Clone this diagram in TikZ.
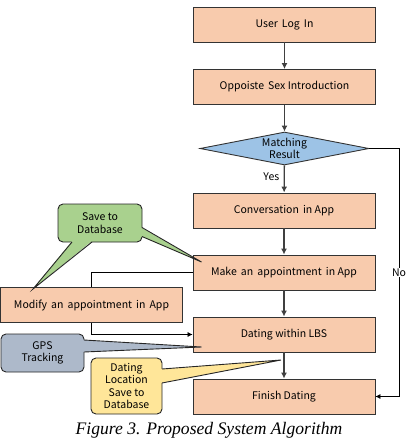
\documentclass[tikz,border=0pt]{standalone}
\usepackage{fontspec}
\setmainfont{Noto Sans CJK KR}
\newfontfamily\capfont{Liberation Serif}
\usepackage{tikz}
\usetikzlibrary{shapes.geometric, arrows.meta}
\definecolor{boxpeach}{HTML}{F8CBAD}
\definecolor{matchblue}{HTML}{9DC3E6}
\definecolor{savegreen}{HTML}{A9D18E}
\definecolor{gpsgrey}{HTML}{ADB9CA}
\definecolor{placeyellow}{HTML}{FFE699}
\tikzset{
  procbox/.style={draw=black!80, line width=0.9pt, fill=boxpeach, minimum width=182pt, minimum height=35pt, inner sep=0pt, font=\fontsize{10.5pt}{12pt}\selectfont},
  decision/.style={diamond, draw=black!80, line width=0.9pt, fill=matchblue, minimum width=169pt, minimum height=33pt, inner sep=0pt},
  memo/.style={draw=black!85, line width=0.9pt, rounded corners=5pt, inner sep=0pt, align=center, font=\fontsize{10.5pt}{12.5pt}\selectfont},
  flow/.style={draw=black!75, line width=1.3pt, -{Latex[length=6pt,width=6pt]}},
  route/.style={draw=black, line width=0.6pt}
}

\begin{document}
\begin{tikzpicture}[x=1pt, y=-1pt]
\useasboundingbox (0,0) rectangle (406,440);
% main steps
\node[procbox] (user) at (284.5,24.5) {User\, Log\, In};
\node[procbox] (intro) at (284.5,87) {Oppoiste\, Sex Introduction};
\node[decision] (match) at (284.5,148.5) {};
\node[align=center, inner sep=0pt, font=\fontsize{10.5pt}{11.5pt}\selectfont] (matchtext) at (match) {Matching\\Result};
\node[procbox] (talk) at (284,210.5) {Conversation\, in App};
\node[procbox] (make) at (284,272.5) {Make\, an\, appointment\, in App};
\node[procbox] (modify) at (91.5,305) {Modify\, an\, appointment\, in\, App};
\node[procbox] (dating) at (284,334.5) {Dating within LBS};
\node[procbox] (finish) at (284,396.5) {Finish Dating};
% arrows
\draw[flow] (user) -- (intro);
\draw[flow] (intro) -- (match);
\draw[flow] (match) -- node[pos=0.42, left=1pt, font=\fontsize{10.5pt}{12pt}\selectfont] (yes) {Yes} (talk);
\draw[flow] (talk) -- (make);
\draw[flow] (make) -- (dating);
\draw[flow] (dating) -- (finish);
% no match
\coordinate (nocorner) at (399,148.5);
\draw[route, -{Latex[length=5pt,width=5pt]}] (match.east) -- (nocorner) |- node[pos=0.25, fill=white, inner sep=1pt, font=\fontsize{10.5pt}{12pt}\selectfont] (no) {No} (finish.east);
% change of plan
\draw[route] (make.west) -| (modify.north);
\draw[route, -{Latex[length=5pt,width=5pt]}] (modify.south) |- (dating.west);
% callouts
\coordinate (tipmake) at (201.5,262);
\coordinate (tipmodify) at (33,289);
\coordinate (tipgps) at (201.5,347);
\coordinate (tipplace) at (281,360);
\node[memo, fill=savegreen, minimum width=84pt, minimum height=38pt] (save) at (100,223) {Save to\\Database};
\fill[savegreen] (141,227.5) -- (tipmake) -- (141,236.5) -- cycle;
\draw[black!85, line width=0.9pt] (142,227.5) -- (tipmake) -- (142,236.5);
\fill[savegreen] (72,241) -- (tipmodify) -- (92,241) -- cycle;
\draw[black!85, line width=0.9pt] (72,242) -- (tipmodify) -- (92,242);
\node[memo, fill=gpsgrey, minimum width=83pt, minimum height=38pt] (gps) at (42.5,353) {GPS\\Tracking};
\fill[gpsgrey] (83,340) -- (tipgps) -- (83,352) -- cycle;
\draw[black!85, line width=0.9pt] (84,340) -- (tipgps) -- (84,352);
\node[memo, fill=placeyellow, minimum width=71pt, minimum height=56pt] (place) at (126.5,386) {Dating\\Location\\Save to\\Database};
\fill[placeyellow] (161,369) -- (tipplace) -- (161,383) -- cycle;
\draw[black!85, line width=0.9pt] (162,369) -- (tipplace) -- (162,383);
% caption
\node[font=\capfont\itshape\fontsize{17.6pt}{17.6pt}\selectfont, inner sep=0pt] (caption) at (209,430.5) {Figure 3. Proposed System Algorithm};
\end{tikzpicture}
\end{document}
